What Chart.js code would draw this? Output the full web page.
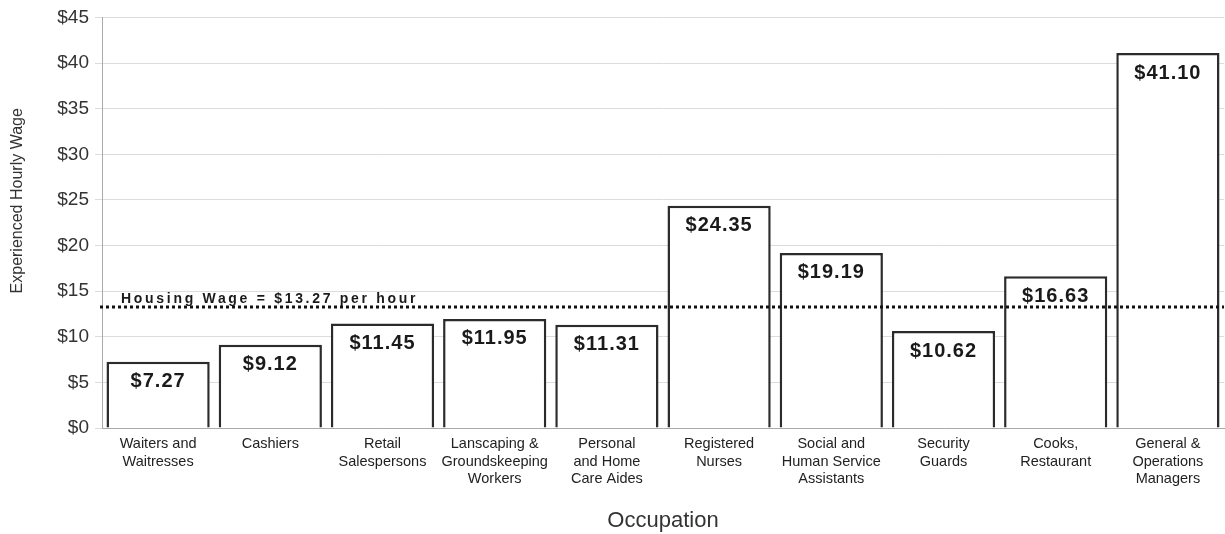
<!DOCTYPE html>
<html><head><meta charset="utf-8">
<script src="https://cdn.jsdelivr.net/npm/chart.js@4/dist/chart.umd.min.js"></script>
<style>html,body{margin:0;padding:0;background:#fff}#wrap{width:1225px;height:534px}</style>
</head><body><div id="wrap"><canvas id="c" width="1225" height="534"></canvas></div>
<script>
const categories = [
  ["Waiters and","Waitresses"],
  ["Cashiers"],
  ["Retail","Salespersons"],
  ["Lanscaping &","Groundskeeping","Workers"],
  ["Personal","and Home","Care Aides"],
  ["Registered","Nurses"],
  ["Social and","Human Service","Assistants"],
  ["Security","Guards"],
  ["Cooks,","Restaurant"],
  ["General &","Operations","Managers"]
];
const wages = [7.27, 9.12, 11.45, 11.95, 11.31, 24.35, 19.19, 10.62, 16.63, 41.10];
const housingWage = [13.27];
const housingLabel = "Housing Wage = $13.27 per hour";
const yTitle = "Experienced Hourly Wage";
const yTicks = [0,5,10,15,20,25,30,35,40,45];

const overlay = {
  id: 'overlay',
  afterDatasetsDraw(chart) {
    const ctx = chart.ctx;
    const meta = chart.getDatasetMeta(0);
    const y = chart.scales.y;
    ctx.save();
    ctx.fillStyle = '#1a1a1a';
    ctx.font = 'bold 20px "Liberation Sans", Arial, sans-serif';
    ctx.letterSpacing = '1px';
    ctx.textAlign = 'center';
    ctx.textBaseline = 'middle';
    meta.data.forEach((bar, i) => {
      ctx.fillText('$' + wages[i].toFixed(2), bar.x, bar.y + 20);
    });
    // housing wage line
    const hy = y.getPixelForValue(housingWage[0]);
    ctx.strokeStyle = '#111';
    ctx.lineWidth = 3;
    ctx.setLineDash([3, 3]);
    ctx.beginPath();
    ctx.moveTo(chart.chartArea.left - 2, hy);
    ctx.lineTo(chart.chartArea.right, hy);
    ctx.stroke();
    ctx.setLineDash([]);
    ctx.font = 'bold 14px "Liberation Sans", Arial, sans-serif';
    ctx.textAlign = 'left';
    ctx.textBaseline = 'alphabetic';
    ctx.letterSpacing = '2.7px';
    ctx.fillText(housingLabel, chart.chartArea.left + 19, hy - 4);
    ctx.restore();
    // y axis title
    ctx.save();
    ctx.letterSpacing = '0px';
    ctx.fillStyle = '#333';
    ctx.font = '16px "Liberation Sans", Arial, sans-serif';
    ctx.textAlign = 'center';
    ctx.textBaseline = 'middle';
    ctx.translate(18, y.getPixelForValue(24.9));
    ctx.rotate(-Math.PI / 2);
    ctx.fillText(yTitle, 0, 0);
    ctx.restore();
  }
};

new Chart(document.getElementById('c'), {
  type: 'bar',
  data: {
    labels: categories,
    datasets: [{
      data: wages,
      backgroundColor: '#ffffff',
      borderColor: '#2b2b2b',
      borderWidth: 2.5,
      borderSkipped: 'bottom',
      barPercentage: 0.92,
      categoryPercentage: 1.0
    }]
  },
  options: {
    responsive: false,
    animation: false,
    events: [],
    layout: { padding: { top: 11, right: 1, left: 0, bottom: 0 } },
    plugins: { legend: { display: false }, tooltip: { enabled: false } },
    scales: {
      x: {
        grid: { display: false, drawTicks: true, tickLength: 4, color: '#bbb' },
        border: { color: '#aaa', width: 1 },
        ticks: { color: '#222', font: { family: '"Liberation Sans", Arial, sans-serif', size: 14.5, lineHeight: 1.22 }, maxRotation: 0, autoSkip: false, padding: 3 },
        title: { display: true, text: 'Occupation', color: '#333', font: { family: '"Liberation Sans", Arial, sans-serif', size: 22 }, padding: { top: 19, bottom: 0 } },
        afterFit(scale) { scale.height = 106; }
      },
      y: {
        min: 0, max: 45,
        afterBuildTicks(scale) { scale.ticks = yTicks.map(v => ({ value: v })); },
        grid: { color: '#dcdcdc', lineWidth: 1, tickLength: 7 },
        border: { color: '#aaa', width: 1 },
        ticks: { color: '#333', font: { family: '"Liberation Sans", Arial, sans-serif', size: 19 }, padding: 6, callback: v => '$' + v },
        title: { display: false },
        afterFit(scale) { scale.width = 102; }
      }
    }
  },
  plugins: [overlay]
});
</script>
</body></html>
